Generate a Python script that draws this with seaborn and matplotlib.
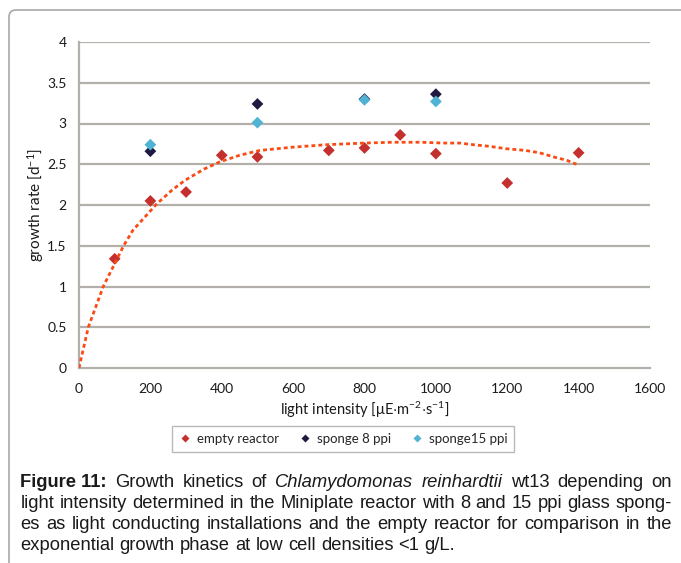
import numpy as np
import pandas as pd
import matplotlib
matplotlib.use("Agg")
import matplotlib.pyplot as plt
import seaborn as sns
from matplotlib.patches import FancyBboxPatch
from matplotlib.transforms import IdentityTransform
from matplotlib import font_manager

# ---------------- data ----------------
empty_x = [100, 200, 300, 400, 500, 700, 800, 900, 1000, 1200, 1400]
empty_y = [1.34, 2.05, 2.16, 2.61, 2.59, 2.67, 2.70, 2.86, 2.63, 2.27, 2.64]
sponge8_x = [200, 500, 800, 1000]
sponge8_y = [2.66, 3.24, 3.30, 3.36]
sponge15_x = [200, 500, 800, 1000]
sponge15_y = [2.74, 3.01, 3.29, 3.27]
series_names = ["empty reactor", "sponge 8 ppi", "sponge15 ppi"]

# fitted trend curve for the empty reactor
trend_x = [0, 26, 68, 125, 151, 217, 260, 296, 350, 395, 450, 507, 600, 694, 800,
           880, 960, 1020, 1067, 1104, 1150, 1198, 1250, 1291, 1338, 1366, 1394]
trend_y = [0, 0.50, 1.00, 1.50, 1.69, 2.01, 2.18, 2.30, 2.44, 2.53, 2.61, 2.67, 2.71, 2.74, 2.76,
           2.77, 2.77, 2.76, 2.76, 2.74, 2.72, 2.69, 2.67, 2.64, 2.58, 2.55, 2.50]

x_ticks = [0, 200, 400, 600, 800, 1000, 1200, 1400, 1600]
y_ticks = [0, 0.5, 1, 1.5, 2, 2.5, 3, 3.5, 4]
y_tick_labels = ["0", "0.5", "1", "1.5", "2", "2.5", "3", "3.5", "4"]

caption_lines = [
    [("Figure 11:", "bold"), ("Growth", "n"), ("kinetics", "n"), ("of", "n"),
     ("Chlamydomonas", "i"), ("reinhardtii", "i"), ("wt13", "n"), ("depending", "n"), ("on", "n")],
    [(w, "n") for w in "light intensity determined in the Miniplate reactor with 8 and 15 ppi glass spong-".split()],
    [(w, "n") for w in "es as light conducting installations and the empty reactor for comparison in the".split()],
    [(w, "n") for w in "exponential growth phase at low cell densities <1 g/L.".split()],
]

# ---------------- style ----------------
sns.set_theme(style="white")
plt.rcParams["font.family"] = ["Lato", "DejaVu Sans"]
plt.rcParams["mathtext.fontset"] = "custom"
plt.rcParams["mathtext.rm"] = "Lato"
plt.rcParams["mathtext.it"] = "Lato:italic"

W, H = 681, 563
fig = plt.figure(figsize=(W / 100, H / 100), dpi=100)
fig.patch.set_facecolor("white")

# outer frame (top + left with rounded corner)
frame = FancyBboxPatch((9, -50), 760, H - 10 + 50, boxstyle="round,pad=0,rounding_size=7",
                       transform=IdentityTransform(), facecolor="none",
                       edgecolor="#A8A8A8", linewidth=1.2)
fig.patches.append(frame)

ax = fig.add_axes([79 / W, 1 - 368 / H, (650 - 79) / W, (368 - 42) / H])

colors = {"empty reactor": "#C4302E", "sponge 8 ppi": "#1E1A40", "sponge15 ppi": "#4FB3D4"}

df = pd.DataFrame({
    "x": empty_x + sponge8_x + sponge15_x,
    "y": empty_y + sponge8_y + sponge15_y,
    "series": [series_names[0]] * len(empty_x) + [series_names[1]] * len(sponge8_x)
              + [series_names[2]] * len(sponge15_x),
})
trend = pd.DataFrame({"x": trend_x, "y": trend_y})

grid_c = "#B3AFAB"
for yv in y_ticks[1:]:
    ax.axhline(yv, color=grid_c, lw=1.6, zorder=0)

sns.scatterplot(data=df, x="x", y="y", hue="series", palette=colors, marker="D",
                s=36, edgecolor="none", ax=ax, zorder=3, legend=True)
sns.lineplot(data=trend, x="x", y="y", ax=ax, color="#FA4B14", lw=2.0,
             dashes=False, estimator=None, sort=False, zorder=4)
ax.lines[-1].set_dashes((1.4, 1.1))

ax.set_xlim(0, 1600)
ax.set_ylim(0, 4)
ax.set_xticks(x_ticks)
ax.set_yticks(y_ticks)
ax.set_yticklabels(y_tick_labels)
for s in ["top", "right"]:
    ax.spines[s].set_visible(False)
for s in ["left", "bottom"]:
    ax.spines[s].set_color(grid_c)
    ax.spines[s].set_linewidth(1.6)
ax.tick_params(axis="both", which="major", length=5, width=1.2, color=grid_c,
               labelsize=10, labelcolor="#1a1a1a", direction="out", pad=4)
ax.tick_params(axis="x", pad=6)
ax.set_xlabel(r"light intensity [$\mathregular{\mu E{\cdot}m^{-2}{\cdot}s^{-1}}$]",
              fontsize=10.5, color="#1a1a1a", labelpad=3)
ax.set_ylabel(r"growth rate [d$\mathregular{^{-1}}$]", fontsize=11, color="#1a1a1a", labelpad=0.5)
ax.set_facecolor("white")

leg = ax.legend(loc="center", bbox_to_anchor=(343 / W, 1 - 439 / H), bbox_transform=fig.transFigure,
                ncol=3, frameon=True, fancybox=False, fontsize=9.5, handletextpad=0.4,
                columnspacing=1.5, borderpad=0.5, markerscale=0.75, handlelength=1.0)
leg.get_frame().set_edgecolor("#A8A8A8")
leg.get_frame().set_linewidth(1.0)

# ---------------- caption (justified) ----------------
avail = {f.name for f in font_manager.fontManager.ttflist}
cap_family = "Liberation Sans Narrow" if "Liberation Sans Narrow" in avail else "Liberation Sans"
x_left, x_right = 20.5, 672.0
baselines = [487, 508, 529, 550]
renderer = fig.canvas.get_renderer()


def make_line(line, yb, size):
    texts = []
    for word, st in line:
        kw = dict(family=cap_family, fontsize=size, color="#1a1a1a")
        if st == "bold":
            kw["weight"] = "bold"
        if st == "i":
            kw["style"] = "italic"
        texts.append(fig.text(0, 1 - yb / H, word, ha="left", va="baseline", **kw))
    return texts


# choose font size so that the widest full line fits with normal word spacing
size0 = 12.0
probe = []
nat = []
for line, yb in zip(caption_lines[:-1], baselines):
    ts = make_line(line, yb, size0)
    ws = [t.get_window_extent(renderer).width for t in ts]
    nat.append(sum(ws) + (len(ws) - 1) * size0 * 100 / 72 * 0.278)
    probe += ts
for t in probe:
    t.remove()
cap_size = size0 * (x_right - x_left - 2) / max(nat)

for li, (line, yb) in enumerate(zip(caption_lines, baselines)):
    texts = make_line(line, yb, cap_size)
    widths = [t.get_window_extent(renderer).width for t in texts]
    if li < len(caption_lines) - 1:
        gap = (x_right - x_left - sum(widths)) / (len(texts) - 1)
    else:
        gap = cap_size * 100 / 72 * 0.278
    x = x_left
    for t, w in zip(texts, widths):
        t.set_x(x / W)
        x += w + gap

fig.savefig("out.png", dpi=100, facecolor="white")
